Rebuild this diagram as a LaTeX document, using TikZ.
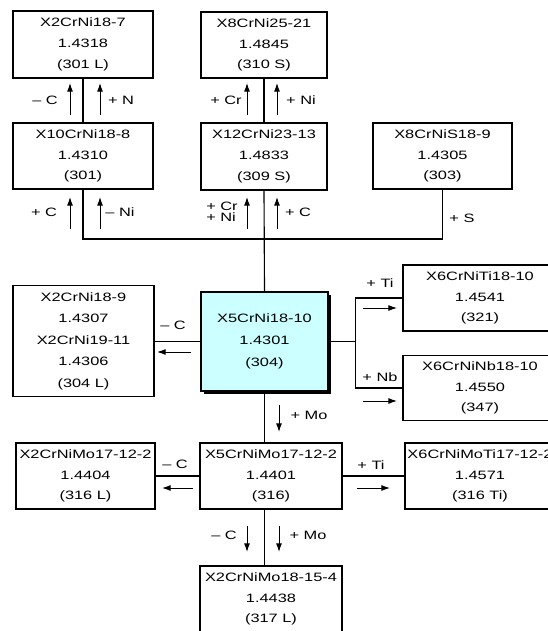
\documentclass[tikz,border=0pt]{standalone}
\usepackage{fontspec}
\setmainfont{Liberation Sans}[FakeStretch=1.35]
\usetikzlibrary{arrows.meta,shadows,calc}
\definecolor{boxcyan}{RGB}{204,255,255}
\begin{document}
\begin{tikzpicture}[x=0.75pt,y=-0.75pt,
  box/.style={draw, line width=0.85pt, inner sep=0pt, align=center, fill=white,
    font=\fontsize{9.1pt}{15.5pt}\selectfont},
  sz/.style 2 args={minimum width=#1*0.75pt, minimum height=#2*0.75pt},
  lbl/.style={inner sep=0pt, font=\fontsize{9.1pt}{8.6pt}\selectfont},
  arr/.style={-{Latex[length=6.5pt,width=4.5pt]}, line width=0.75pt},
  ln/.style={line width=0.85pt}]
\useasboundingbox (0,0) rectangle (548,631);
\clip (0,0) rectangle (548,631);
\fill[white] (0,0) rectangle (548,631);

% boxes
\node[box,sz={140}{67}] (A) at (83,44.5) {X2CrNi18-7\\1.4318\\(301 L)};
\node[box,sz={126}{66}] (B) at (264,45) {X8CrNi25-21\\1.4845\\(310 S)};
\node[box,sz={140}{66}] (C) at (83,156) {X10CrNi18-8\\1.4310\\(301)};
\node[box,sz={126}{67}] (D) at (264,156.5) {X12CrNi23-13\\1.4833\\(309 S)};
\node[box,sz={139}{66}] (E) at (442.5,156) {X8CrNiS18-9\\1.4305\\(303)};
\node[box,sz={127}{99}, fill=boxcyan, font=\fontsize{9.1pt}{16.5pt}\selectfont,
  drop shadow={shadow xshift=2.2pt, shadow yshift=-2.2pt, fill=black, opacity=1}]
  (F) at (264.5,341.5) {X5CrNi18-10\\1.4301\\(304)};
\node[box,sz={141}{111}, font=\fontsize{9.1pt}{16.1pt}\selectfont] (G) at (83.5,341)
  {X2CrNi18-9\\1.4307\\X2CrNi19-11\\1.4306\\(304 L)};
\node[box,sz={154}{66}] (H) at (480,298) {X6CrNiTi18-10\\1.4541\\(321)};
\node[box,sz={154}{65}] (I) at (480,388) {X6CrNiNb18-10\\1.4550\\(347)};
\node[box,sz={139}{66}] (K) at (85.5,476) {X2CrNiMo17-12-2\\1.4404\\(316 L)};
\node[box,sz={142}{66}] (J) at (271,476) {X5CrNiMo17-12-2\\1.4401\\(316)};
\node[box,sz={150}{66}] (L) at (480,476) {X6CrNiMoTi17-12-2\\1.4571\\(316 Ti)};
\node[box,sz={142}{66}] (M) at (271,599) {X2CrNiMo18-15-4\\1.4438\\(317 L)};

% connectors
\coordinate (bus) at (264,239);
\draw[ln] (A.south) -- (C.north);
\draw[ln] (B.south) -- (D.north);
\draw[ln] (C.south) -- (C.south |- bus) -- (E.south |- bus) -- (E.south);
\draw[ln] (D.south) -- (F.north);
\draw[ln] (G.east |- F.west) -- (F.west);
\coordinate (fr) at ($(F.east)+(27,0)$);
\draw[ln] (F.east) -- (fr);
\draw[ln] (H.west) -- (H.west -| fr) -- (I.west -| fr) -- (I.west);
\draw[ln] (F.south) -- (F.south |- J.north);
\draw[ln] (K.east) -- (J.west);
\draw[ln] (J.east) -- (L.west);
\draw[ln] (J.south -| F.south) -- (M.north -| F.south);

% arrows
\draw[arr] (70,115) -- (70,83);
\draw[arr] (100,115) -- (100,83);
\draw[arr] (247,115) -- (247,83);
\draw[arr] (277,115) -- (277,83);
\draw[arr] (70,229) -- (70,197);
\draw[arr] (100,229) -- (100,197);
\draw[arr] (247,229) -- (247,197);
\draw[arr] (277,229) -- (277,197);
\draw[arr] (191,352) -- (157,352);
\draw[arr] (363,308) -- (397,308);
\draw[arr] (363,401) -- (397,401);
\draw[arr] (279,405) -- (279,432);
\draw[arr] (193,488) -- (162,488);
\draw[arr] (357,488) -- (390,488);
\draw[arr] (247,526) -- (247,552);
\draw[arr] (279,526) -- (279,552);

% labels
\node[lbl] (l1) at (45,100) {– C};
\node[lbl] (l2) at (121,100) {+ N};
\node[lbl] (l3) at (226,100) {+ Cr};
\node[lbl] (l4) at (301,100) {+ Ni};
\node[lbl] (l5) at (44,212) {+ C};
\node[lbl] (l6) at (120,212) {– Ni};
\node[lbl, align=left] (l7) at (222,212) {+ Cr\\+ Ni};
\node[lbl] (l8) at (298,212) {+ C};
\node[lbl] (l9) at (462,218) {+ S};
\node[lbl] (l10) at (173,325) {– C};
\node[lbl] (l11) at (380,283) {+ Ti};
\node[lbl] (l12) at (380,377) {+ Nb};
\node[lbl] (l13) at (309,415) {+ Mo};
\node[lbl] (l14) at (175,464) {– C};
\node[lbl] (l15) at (371,465) {+ Ti};
\node[lbl] (l16) at (224,535) {– C};
\node[lbl] (l17) at (308,535) {+ Mo};
\end{tikzpicture}
\end{document}
